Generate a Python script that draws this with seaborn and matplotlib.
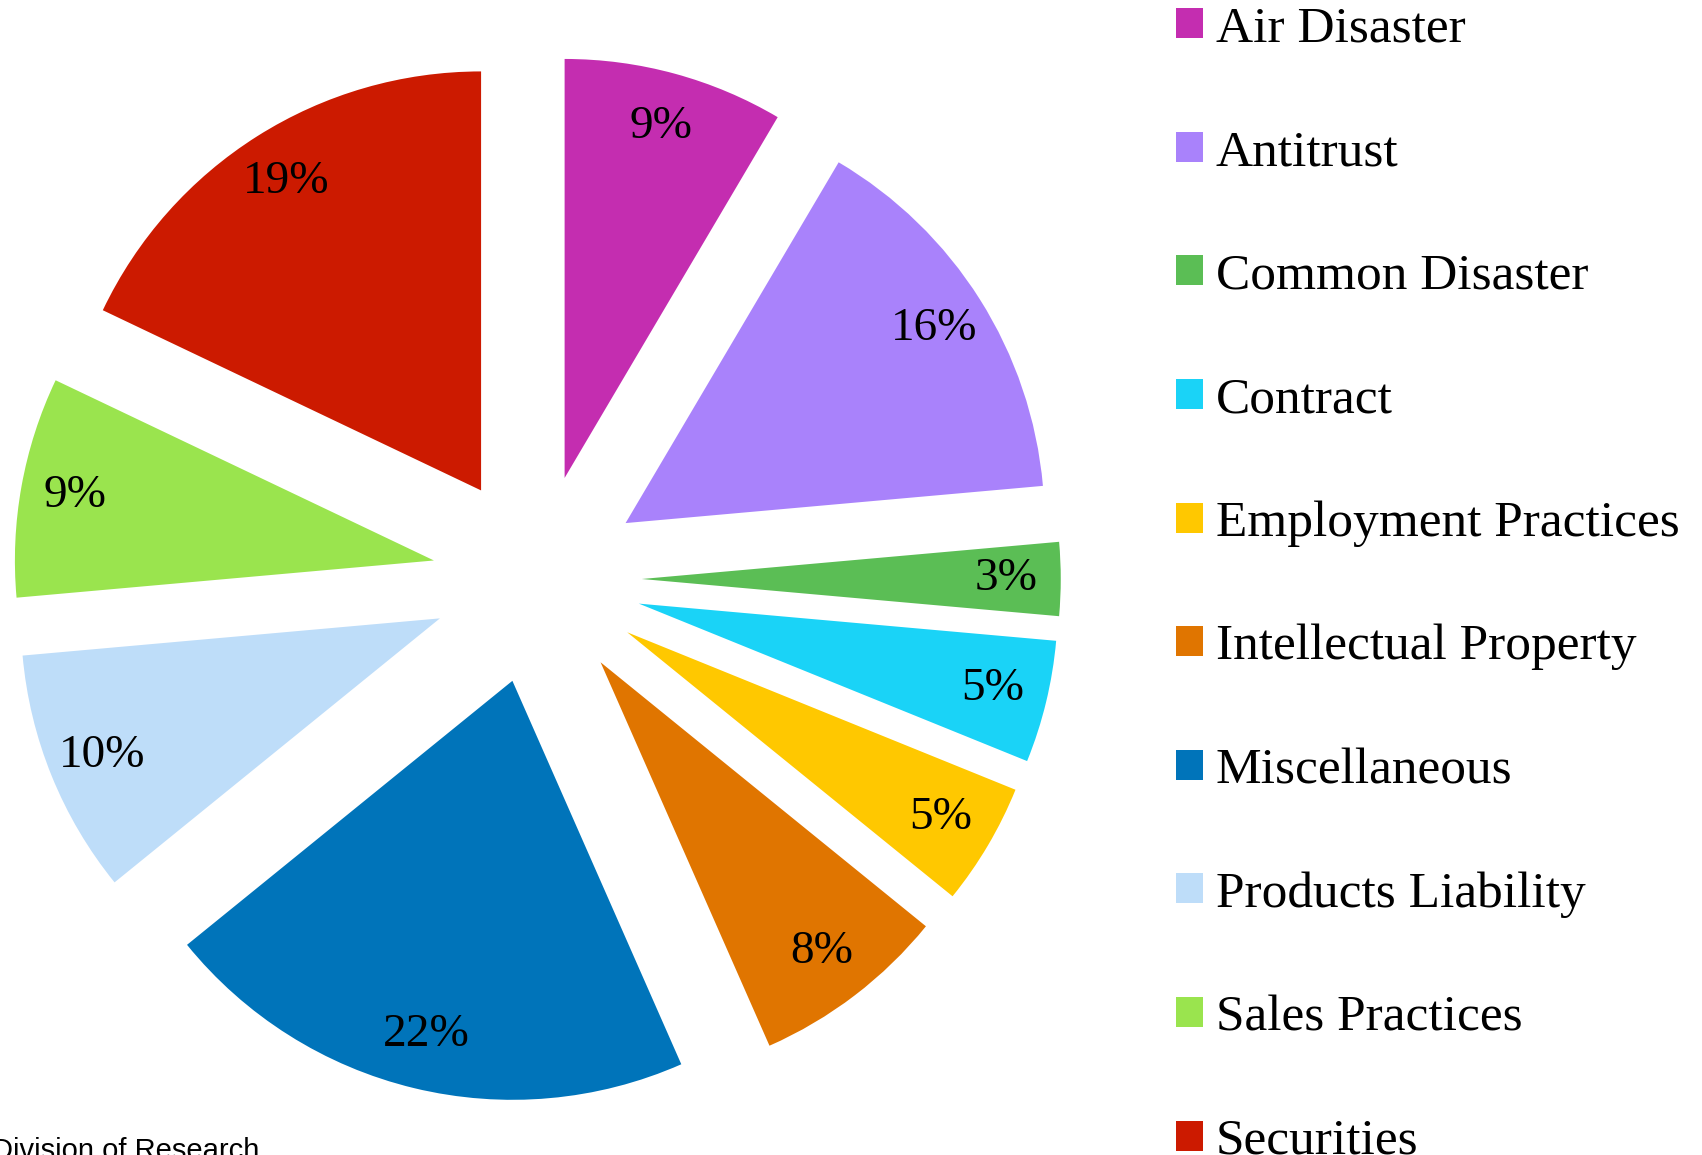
import matplotlib
matplotlib.use("Agg")
import matplotlib.pyplot as plt
import seaborn as sns

## case types and their shares (labels as printed on the slices)
categories = ['Air Disaster', 'Antitrust', 'Common Disaster', 'Contract',
              'Employment Practices', 'Intellectual Property', 'Miscellaneous',
              'Products Liability', 'Sales Practices', 'Securities']
shares = [9, 16, 3, 5, 5, 8, 22, 10, 9, 19]
colors = ['#C42DB0', '#A982FB', '#5BBE55', '#1AD3F7', '#FFC800',
          '#E07500', '#0074BA', '#BEDDF9', '#9AE44E', '#CC1A00']

sns.set_theme(style='white')
plt.rcParams['font.family'] = ['Liberation Serif', 'DejaVu Serif']
plt.rcParams['text.color'] = 'black'

W, H = 1702, 1155
fig = plt.figure(figsize=(W / 100, H / 100), dpi=100)
ax = fig.add_axes([0, 0, 1, 1])

total = sum(shares)
r = 419
# explode is in data units, so scale it by the radius
wedges, texts, autotexts = ax.pie(
    shares,
    colors=colors,
    startangle=90,
    counterclock=False,
    explode=[0.25 * r] * len(shares),
    radius=r,
    center=(537, H - 579),
    autopct=lambda p: f"{p * total / 100:.0f}%",
    pctdistance=0.87,
    wedgeprops=dict(linewidth=0),
    textprops=dict(fontsize=34, color='black'),
)
ax.set_xlim(0, W)
ax.set_ylim(0, H)
ax.set_aspect('auto')
ax.axis('off')

## legend on the right, big spacing
fig.legend(wedges, categories,
           loc='upper left', bbox_to_anchor=(1176 / W, 1 - 6 / H),
           frameon=False, fontsize=37, borderpad=0, borderaxespad=0,
           handlelength=0.52, handleheight=0.52, handletextpad=0.25,
           labelspacing=1.5, labelcolor='black')

## title and footer, mostly cut off by the crop
fig.text(392 / W, 1 + 1 / H, '1998 to 2008', ha='right', va='baseline',
         fontsize=71, fontweight='bold', family='Liberation Sans', color='black')
fig.text(-8 / W, -4 / H, 'Division of Research', ha='left', va='baseline',
         fontsize=21, family='Liberation Sans', color='black')

fig.savefig('out.png', dpi=100)
